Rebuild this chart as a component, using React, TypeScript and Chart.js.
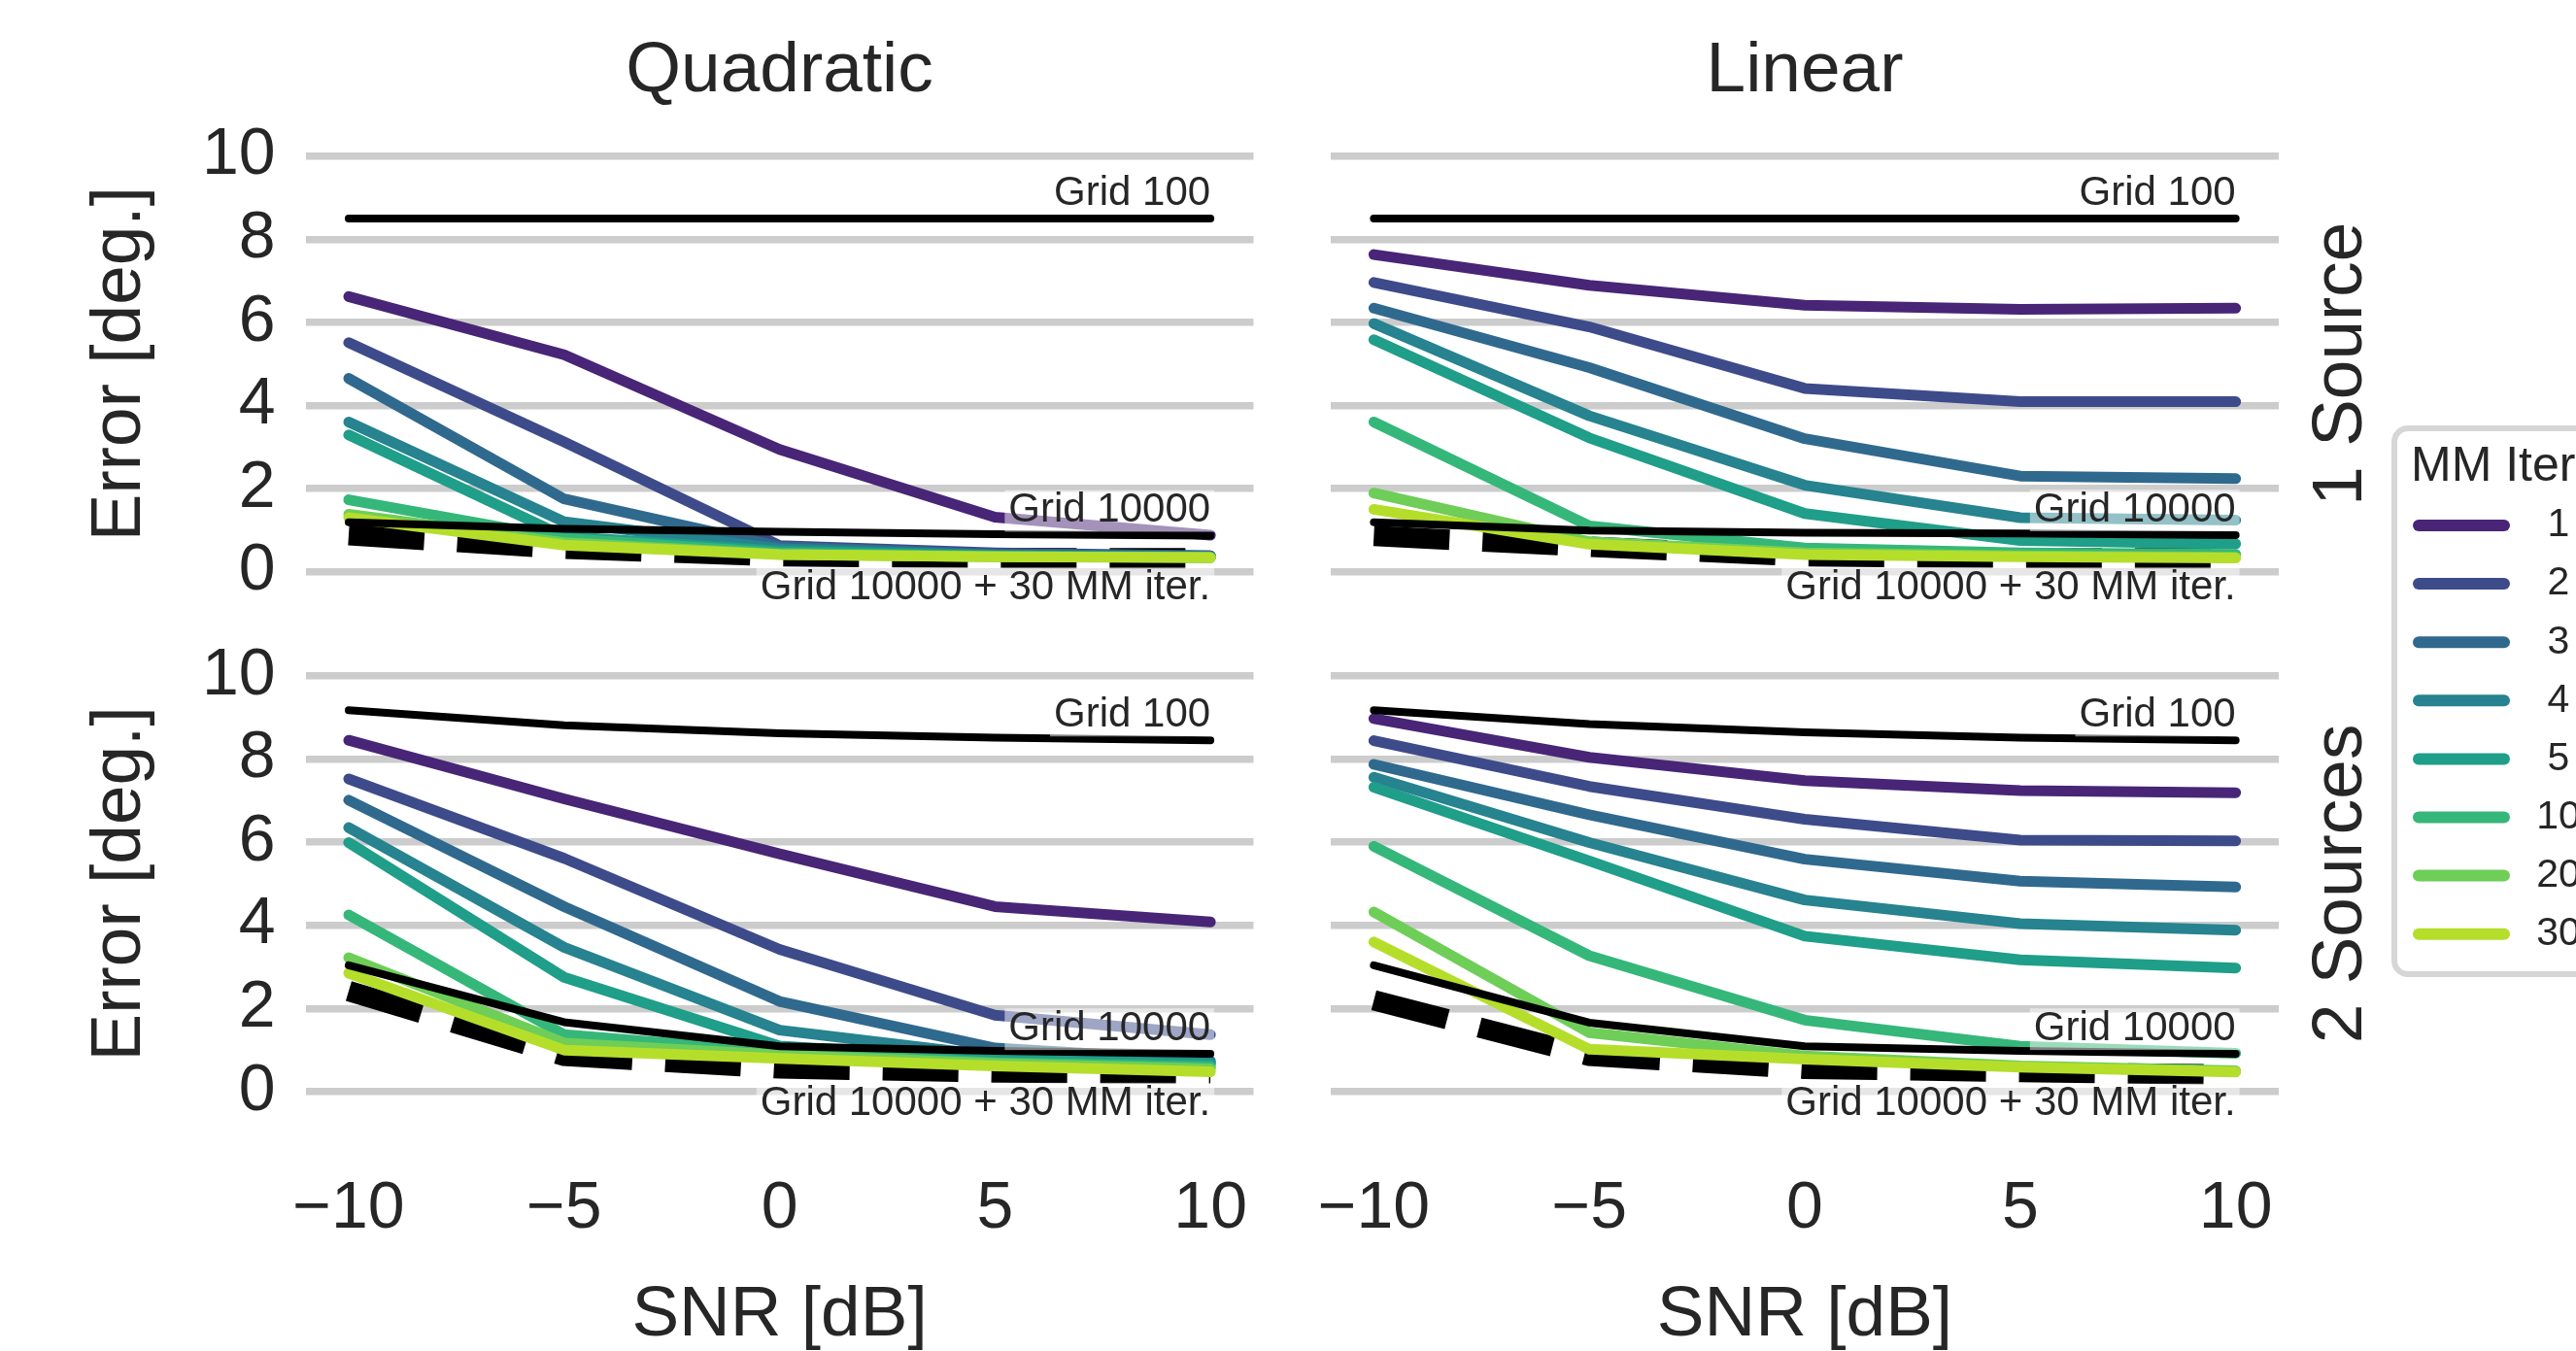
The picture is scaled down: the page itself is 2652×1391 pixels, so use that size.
import React, { useEffect, useRef } from "react";
import { Chart, registerables } from "chart.js";

Chart.register(...registerables);

const FIG_W = 2652;
const FIG_H = 1391;
const FONT = "'Liberation Sans', Arial, Helvetica, sans-serif";
const TEXT = "#262626";
Chart.defaults.font.family = FONT;

// ---------------- data ----------------
const snr = [-10, -5, 0, 5, 10];
const xTickValues = [-10, -5, 0, 5, 10];
const yTickValues = [0, 2, 4, 6, 8, 10];
const mmIterations = ["1", "2", "3", "4", "5", "10", "20", "30"];
const mmColors = ["#482576", "#3e4b8a", "#30698e", "#26838f", "#1f9e89", "#35b779", "#6ece58", "#b5de2b"];
const columnTitles = ["Quadratic", "Linear"];
const rowTitles = ["1 Source", "2 Sources"];

// Quadratic, 1 source (rows: MM iterations 1,2,3,4,5,10,20,30)
const quadratic1SourceMM = [
  [6.62, 5.22, 2.94, 1.31, 0.88],
  [5.51, 3.12, 0.63, 0.45, 0.38],
  [4.65, 1.75, 0.6, 0.42, 0.38],
  [3.6, 1.2, 0.55, 0.4, 0.36],
  [3.29, 0.85, 0.5, 0.38, 0.35],
  [1.73, 0.8, 0.45, 0.37, 0.34],
  [1.38, 0.7, 0.42, 0.36, 0.34],
  [1.3, 0.64, 0.41, 0.36, 0.34],
];
const quadratic1SourceGrid100 = [8.5, 8.5, 8.5, 8.5, 8.5];
const quadratic1SourceGrid10000 = [1.19, 1.03, 0.96, 0.9, 0.87];
const quadratic1SourceGrid10000MM30 = [0.88, 0.55, 0.37, 0.33, 0.32];

// Linear, 1 source
const linear1SourceMM = [
  [7.63, 6.89, 6.41, 6.31, 6.34],
  [6.96, 5.89, 4.41, 4.09, 4.09],
  [6.34, 4.91, 3.2, 2.3, 2.24],
  [5.97, 3.75, 2.08, 1.3, 1.24],
  [5.58, 3.22, 1.4, 0.75, 0.67],
  [3.6, 1.1, 0.57, 0.45, 0.42],
  [1.89, 0.72, 0.45, 0.38, 0.35],
  [1.5, 0.66, 0.41, 0.36, 0.33],
];
const linear1SourceGrid100 = [8.5, 8.5, 8.5, 8.5, 8.5];
const linear1SourceGrid10000 = [1.19, 0.99, 0.94, 0.92, 0.88];
const linear1SourceGrid10000MM30 = [0.86, 0.6, 0.37, 0.33, 0.32];

// Quadratic, 2 sources
const quadratic2SourcesMM = [
  [8.45, 7.04, 5.72, 4.45, 4.08],
  [7.52, 5.61, 3.42, 1.84, 1.37],
  [7.01, 4.45, 2.17, 1.05, 0.74],
  [6.35, 3.47, 1.48, 0.86, 0.7],
  [5.99, 2.75, 1.1, 0.78, 0.66],
  [4.25, 1.37, 0.95, 0.7, 0.6],
  [3.22, 1.17, 0.88, 0.68, 0.55],
  [2.85, 1.0, 0.8, 0.62, 0.48],
];
const quadratic2SourcesGrid100 = [9.17, 8.81, 8.62, 8.51, 8.45];
const quadratic2SourcesGrid10000 = [3.04, 1.67, 1.09, 0.98, 0.91];
const quadratic2SourcesGrid10000MM30 = [2.42, 0.86, 0.56, 0.46, 0.43];

// Linear, 2 sources
const linear2SourcesMM = [
  [8.97, 8.04, 7.48, 7.24, 7.19],
  [8.44, 7.34, 6.55, 6.05, 6.03],
  [7.87, 6.66, 5.59, 5.06, 4.92],
  [7.56, 5.99, 4.61, 4.04, 3.88],
  [7.32, 5.55, 3.74, 3.17, 2.97],
  [5.9, 3.27, 1.72, 1.09, 0.92],
  [4.32, 1.42, 0.86, 0.62, 0.5],
  [3.6, 1.02, 0.78, 0.59, 0.47],
];
const linear2SourcesGrid100 = [9.17, 8.84, 8.64, 8.51, 8.45];
const linear2SourcesGrid10000 = [3.04, 1.66, 1.09, 0.98, 0.91];
const linear2SourcesGrid10000MM30 = [2.2, 0.86, 0.55, 0.47, 0.41];

// ---------------- layout ----------------
const COL_LEFT = [314.6, 1370];
const COL_RIGHT = [1290.5, 2346];
const ROW_TOP = [139.3, 674.4];
const ROW_BOTTOM = [610, 1145.4];
const X_MIN = -11;
const X_MAX = 11;
const Y_MIN = -0.5;
const Y_MAX = 10.5;

type Panel = {
  col: number;
  row: number;
  mm: number[][];
  grid100: number[];
  grid10000: number[];
  refined: number[];
};

const panels: Panel[] = [
  { col: 0, row: 0, mm: quadratic1SourceMM, grid100: quadratic1SourceGrid100, grid10000: quadratic1SourceGrid10000, refined: quadratic1SourceGrid10000MM30 },
  { col: 1, row: 0, mm: linear1SourceMM, grid100: linear1SourceGrid100, grid10000: linear1SourceGrid10000, refined: linear1SourceGrid10000MM30 },
  { col: 0, row: 1, mm: quadratic2SourcesMM, grid100: quadratic2SourcesGrid100, grid10000: quadratic2SourcesGrid10000, refined: quadratic2SourcesGrid10000MM30 },
  { col: 1, row: 1, mm: linear2SourcesMM, grid100: linear2SourcesGrid100, grid10000: linear2SourcesGrid10000, refined: linear2SourcesGrid10000MM30 },
];

const fmtTick = (v: number) => (v < 0 ? "\u2212" + Math.abs(v) : String(v));

function drawNote(ctx: CanvasRenderingContext2D, text: string, xRight: number, baseline: number) {
  const size = 42;
  ctx.font = `${size}px ${FONT}`;
  const w = ctx.measureText(text).width;
  ctx.fillStyle = "rgba(255,255,255,0.5)";
  ctx.fillRect(xRight - w - 4, baseline - 0.78 * size, w + 8, 1.02 * size);
  ctx.fillStyle = TEXT;
  ctx.textAlign = "right";
  ctx.textBaseline = "alphabetic";
  ctx.fillText(text, xRight, baseline);
}

function drawLegend(ctx: CanvasRenderingContext2D) {
  ctx.save();
  ctx.fillStyle = "#ffffff";
  ctx.strokeStyle = "#d6d6d6";
  ctx.lineWidth = 6;
  ctx.beginPath();
  (ctx as any).roundRect(2465, 441, 330, 562, 14);
  ctx.fill();
  ctx.stroke();
  ctx.fillStyle = TEXT;
  ctx.font = `50px ${FONT}`;
  ctx.textAlign = "left";
  ctx.textBaseline = "alphabetic";
  ctx.fillText("MM Iterations", 2482, 495);
  mmIterations.forEach((lab, i) => {
    const y = 541 + i * 60.1;
    ctx.strokeStyle = mmColors[i];
    ctx.lineWidth = 12;
    ctx.lineCap = "round";
    ctx.beginPath();
    ctx.moveTo(2490, y);
    ctx.lineTo(2578, y);
    ctx.stroke();
    ctx.fillStyle = TEXT;
    ctx.font = `41px ${FONT}`;
    ctx.textAlign = "center";
    ctx.textBaseline = "middle";
    ctx.fillText(lab, 2634, y);
  });
  ctx.restore();
}

function buildConfig(panel: Panel): any {
  const { col, row } = panel;
  const left = COL_LEFT[col];
  const right = COL_RIGHT[col];
  const top = ROW_TOP[row];
  const bottom = ROW_BOTTOM[row];
  const toPoints = (vals: number[]) => snr.map((x, i) => ({ x, y: vals[i] }));
  const last = (a: number[]) => a[a.length - 1];

  const datasets = [
    {
      label: "Grid 10000 + 30 MM iter.",
      data: toPoints(panel.refined),
      borderColor: "#000000",
      borderWidth: 21,
      borderDash: [78, 34],
      borderCapStyle: "butt",
      order: 30,
    },
    ...panel.mm.map((vals, i) => ({
      label: mmIterations[i],
      data: toPoints(vals),
      borderColor: mmColors[i],
      borderWidth: 11,
      borderCapStyle: "round",
      borderJoinStyle: "round",
      order: 20 - i,
    })),
    {
      label: "Grid 100",
      data: toPoints(panel.grid100),
      borderColor: "#000000",
      borderWidth: 8,
      borderCapStyle: "round",
      borderJoinStyle: "round",
      order: 2,
    },
    {
      label: "Grid 10000",
      data: toPoints(panel.grid10000),
      borderColor: "#000000",
      borderWidth: 8,
      borderCapStyle: "round",
      borderJoinStyle: "round",
      order: 1,
    },
  ].map((d) => ({ ...d, pointRadius: 0, pointHoverRadius: 0, fill: false, tension: 0 }));

  const extras = {
    id: "panelExtras",
    afterDatasetsDraw(chart: any) {
      const ctx = chart.ctx as CanvasRenderingContext2D;
      const xs = chart.scales.x;
      const ys = chart.scales.y;
      const xEnd = xs.getPixelForValue(last(snr));
      ctx.save();
      drawNote(ctx, "Grid 100", xEnd, ys.getPixelForValue(last(panel.grid100)) - 14);
      drawNote(ctx, "Grid 10000", xEnd, ys.getPixelForValue(last(panel.grid10000)) - 14);
      drawNote(ctx, "Grid 10000 + 30 MM iter.", xEnd, ys.getPixelForValue(last(panel.refined)) + 42);
      ctx.restore();
    },
    afterDraw(chart: any) {
      const ctx = chart.ctx as CanvasRenderingContext2D;
      const area = chart.chartArea;
      ctx.save();
      ctx.fillStyle = TEXT;
      ctx.font = `73px ${FONT}`;
      if (row === 0) {
        ctx.textAlign = "center";
        ctx.textBaseline = "alphabetic";
        ctx.fillText(columnTitles[col], (area.left + area.right) / 2, 94);
      }
      if (col === 1) {
        ctx.save();
        ctx.translate(2431, (area.top + area.bottom) / 2);
        ctx.rotate(-Math.PI / 2);
        ctx.textAlign = "center";
        ctx.textBaseline = "alphabetic";
        ctx.fillText(rowTitles[row], 0, 0);
        ctx.restore();
      }
      ctx.restore();
      if (col === 1 && row === 0) drawLegend(ctx);
    },
  };

  return {
    type: "line",
    data: { datasets },
    options: {
      responsive: false,
      maintainAspectRatio: false,
      devicePixelRatio: 1,
      animation: false,
      events: [],
      layout: {
        padding: {
          left: col === 0 ? 0 : left,
          right: FIG_W - right,
          top: top,
          bottom: row === 1 ? 0 : FIG_H - bottom,
        },
      },
      plugins: {
        legend: { display: false },
        tooltip: { enabled: false },
        title: { display: false },
      },
      scales: {
        x: {
          type: "linear",
          min: X_MIN,
          max: X_MAX,
          afterBuildTicks: (s: any) => {
            s.ticks = xTickValues.map((v) => ({ value: v }));
          },
          afterFit: (s: any) => {
            s.height = row === 1 ? FIG_H - bottom : 0;
          },
          grid: { display: false, drawTicks: false },
          border: { display: false },
          ticks: {
            display: row === 1,
            autoSkip: false,
            maxRotation: 0,
            padding: 58.6,
            color: TEXT,
            font: { family: FONT, size: 68, lineHeight: 1.2 },
            callback: (v: number) => fmtTick(v),
          },
          title: {
            display: row === 1,
            text: "SNR [dB]",
            color: TEXT,
            font: { family: FONT, size: 73, lineHeight: 1 },
            padding: { top: 0, bottom: 0 },
          },
        },
        y: {
          type: "linear",
          min: Y_MIN,
          max: Y_MAX,
          afterBuildTicks: (s: any) => {
            s.ticks = yTickValues.map((v) => ({ value: v }));
          },
          afterFit: (s: any) => {
            s.width = col === 0 ? left : 0;
          },
          grid: { display: true, color: "#cccccc", lineWidth: 7.5, drawTicks: false },
          border: { display: false },
          ticks: {
            display: col === 0,
            padding: 31,
            color: TEXT,
            font: { family: FONT, size: 68, lineHeight: 1.2 },
            callback: (v: number) => fmtTick(v),
          },
          title: {
            display: col === 0,
            text: "Error [deg.]",
            color: TEXT,
            font: { family: FONT, size: 73, lineHeight: 1 },
            padding: { top: 87.5, bottom: 0 },
          },
        },
      },
    },
    plugins: [extras],
  };
}

export default function App() {
  const canvasRefs = useRef<(HTMLCanvasElement | null)[]>([]);

  useEffect(() => {
    const charts = panels.map((p, i) => new Chart(canvasRefs.current[i] as HTMLCanvasElement, buildConfig(p)));
    return () => charts.forEach((c) => c.destroy());
  }, []);

  return (
    <div
      style={{
        position: "absolute",
        left: 0,
        top: 0,
        width: FIG_W,
        height: FIG_H,
        background: "#ffffff",
        overflow: "hidden",
      }}
    >
      {panels.map((p, i) => (
        <canvas
          key={i}
          ref={(el) => {
            canvasRefs.current[i] = el;
          }}
          width={FIG_W}
          height={FIG_H}
          style={{ position: "absolute", left: 0, top: 0 }}
        />
      ))}
    </div>
  );
}
